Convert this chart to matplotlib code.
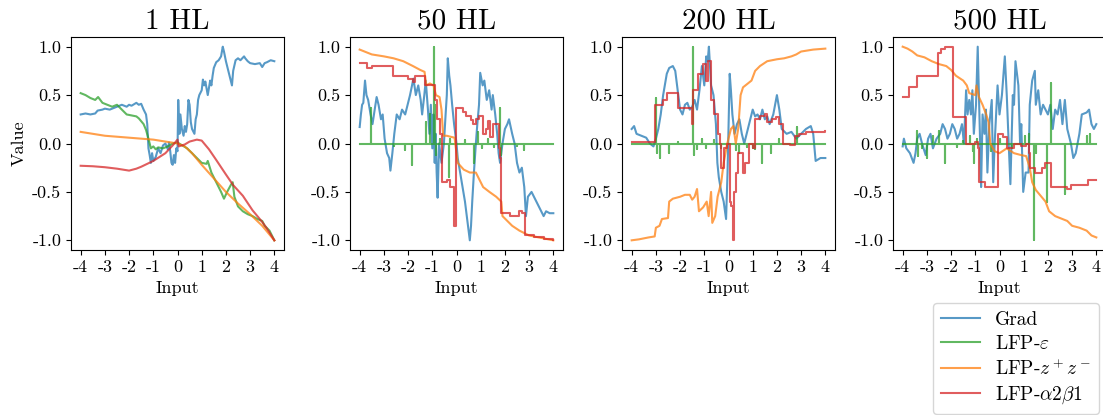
import matplotlib
matplotlib.use("Agg")
import matplotlib.pyplot as plt

plt.rcParams["font.family"] = "serif"
plt.rcParams["font.serif"] = ["cmr10"]
plt.rcParams["mathtext.fontset"] = "cm"
plt.rcParams["axes.unicode_minus"] = False
plt.rcParams["axes.formatter.use_mathtext"] = False

TITLES = ["1 HL", "50 HL", "200 HL", "500 HL"]
LABELS = ["Grad", r"LFP-$\varepsilon$", r"LFP-$z^+z^-$", r"LFP-$\alpha2\beta1$"]
COLORS = ["C0", "C2", "C1", "C3"]
XTICKS = [-4, -3, -2, -1, 0, 1, 2, 3, 4]
YTICKS = [-1.0, -0.5, 0.0, 0.5, 1.0]

# ---- 1 HL ----
grad_1 = [(-4.0, 0.30), (-3.8, 0.31), (-3.6, 0.30), (-3.4, 0.31), (-3.3, 0.34), (-3.1, 0.35),
          (-3.0, 0.36), (-2.8, 0.35), (-2.6, 0.37), (-2.5, 0.38), (-2.3, 0.40), (-2.1, 0.38),
          (-2.0, 0.40), (-1.9, 0.39), (-1.7, 0.42), (-1.6, 0.40), (-1.5, 0.41), (-1.4, 0.35),
          (-1.3, 0.30), (-1.25, 0.20), (-1.2, -0.05), (-1.15, -0.12), (-1.1, -0.20), (-1.05, -0.10),
          (-1.0, -0.18), (-0.9, -0.14), (-0.8, -0.05), (-0.7, -0.10), (-0.6, -0.02), (-0.5, 0.00),
          (-0.4, -0.06), (-0.35, 0.01), (-0.3, -0.08), (-0.25, -0.20), (-0.2, -0.22), (-0.15, -0.12),
          (-0.1, -0.20), (-0.05, -0.05), (0.0, -0.08), (0.03, 0.45), (0.08, 0.10), (0.12, 0.30),
          (0.18, 0.15), (0.25, 0.08), (0.3, 0.18), (0.35, 0.12), (0.4, 0.20), (0.45, 0.45),
          (0.5, 0.40), (0.55, 0.22), (0.6, 0.15), (0.7, 0.10), (0.75, 0.25), (0.8, 0.30),
          (0.85, 0.45), (0.9, 0.50), (1.0, 0.55), (1.05, 0.66), (1.1, 0.60), (1.15, 0.64),
          (1.25, 0.50), (1.35, 0.65), (1.4, 0.60), (1.45, 0.70), (1.5, 0.78), (1.6, 0.84),
          (1.7, 0.86), (1.8, 0.90), (1.87, 1.00), (1.92, 0.95), (2.0, 0.85), (2.1, 0.75),
          (2.15, 0.70), (2.25, 0.60), (2.3, 0.75), (2.4, 0.86), (2.5, 0.88), (2.6, 0.86),
          (2.75, 0.90), (2.8, 0.88), (2.9, 0.85), (3.0, 0.83), (3.2, 0.82), (3.4, 0.83),
          (3.5, 0.79), (3.6, 0.83), (3.7, 0.84), (3.85, 0.86), (4.0, 0.85)]
eps_1 = [(-4.0, 0.52), (-3.8, 0.50), (-3.6, 0.47), (-3.4, 0.45), (-3.28, 0.48), (-3.1, 0.42),
         (-2.9, 0.40), (-2.7, 0.38), (-2.5, 0.40), (-2.3, 0.35), (-2.1, 0.30), (-1.9, 0.29),
         (-1.7, 0.28), (-1.6, 0.26), (-1.4, 0.20), (-1.3, 0.14), (-1.2, 0.05), (-1.1, -0.05),
         (-1.0, -0.03), (-0.9, -0.06), (-0.8, -0.04), (-0.6, -0.05), (-0.4, -0.03), (-0.2, 0.00),
         (0.0, 0.01), (0.2, -0.02), (0.4, -0.05), (0.6, -0.10), (0.8, -0.15), (1.0, -0.20),
         (1.2, -0.21), (1.25, -0.18), (1.4, -0.30), (1.6, -0.40), (1.8, -0.50), (1.92, -0.57),
         (2.05, -0.50), (2.2, -0.43), (2.28, -0.40), (2.35, -0.55), (2.5, -0.65), (2.7, -0.70),
         (2.9, -0.73), (3.1, -0.75), (3.3, -0.78), (3.5, -0.80), (3.6, -0.85), (3.8, -0.90),
         (4.0, -1.00)]
zz_1 = [(-4.0, 0.12), (-3.5, 0.10), (-3.0, 0.08), (-2.5, 0.07), (-2.0, 0.06), (-1.5, 0.05),
        (-1.0, 0.04), (-0.5, 0.02), (0.0, 0.00), (0.3, -0.03), (0.6, -0.10), (1.0, -0.22),
        (1.5, -0.36), (2.0, -0.50), (2.5, -0.62), (3.0, -0.73), (3.5, -0.85), (4.0, -1.00)]
ab_1 = [(-4.0, -0.23), (-3.5, -0.235), (-3.0, -0.245), (-2.5, -0.26), (-2.0, -0.28), (-1.7, -0.26),
        (-1.5, -0.24), (-1.0, -0.18), (-0.5, -0.10), (-0.2, -0.02), (0.0, 0.04), (0.05, -0.03),
        (0.3, -0.01), (0.5, 0.02), (0.8, 0.04), (1.0, 0.03), (1.3, -0.06), (1.6, -0.17),
        (2.0, -0.32), (2.3, -0.43), (2.7, -0.54), (3.1, -0.69), (3.5, -0.81), (3.7, -0.88),
        (4.0, -1.00)]

# ---- 50 HL ----
grad_50 = [(-4.0, 0.17), (-3.95, 0.30), (-3.9, 0.40), (-3.85, 0.42), (-3.78, 0.65), (-3.72, 0.50),
           (-3.65, 0.45), (-3.55, 0.30), (-3.47, 0.20), (-3.38, 0.35), (-3.3, 0.48), (-3.22, 0.40),
           (-3.12, 0.25), (-3.05, 0.30), (-2.97, 0.05), (-2.87, -0.10), (-2.78, -0.15), (-2.73, -0.28),
           (-2.65, -0.10), (-2.57, 0.10), (-2.47, 0.30), (-2.35, 0.25), (-2.25, 0.35), (-2.12, 0.30),
           (-2.02, 0.40), (-1.92, 0.50), (-1.78, 0.67), (-1.68, 0.50), (-1.58, 0.60), (-1.48, 0.45),
           (-1.42, 0.30), (-1.33, 0.50), (-1.27, 0.65), (-1.18, 0.35), (-1.12, 0.10), (-1.06, 0.40),
           (-1.0, -0.05), (-0.95, 0.30), (-0.9, -0.20), (-0.86, 0.10), (-0.82, -0.30), (-0.78, -0.56),
           (-0.72, 0.00), (-0.62, -0.20), (-0.52, 0.00), (-0.45, 0.30), (-0.4, 0.50), (-0.36, 0.88),
           (-0.3, 0.70), (-0.25, 0.60), (-0.18, 0.40), (-0.1, 0.20), (0.0, 0.00), (0.05, -0.15),
           (0.15, -0.30), (0.25, -0.45), (0.35, -0.60), (0.45, -0.80), (0.55, -1.00), (0.6, -0.85),
           (0.65, -0.60), (0.72, -0.30), (0.8, 0.00), (0.86, 0.20), (0.93, 0.40), (0.98, 0.73),
           (1.08, 0.60), (1.15, 0.65), (1.25, 0.45), (1.35, 0.55), (1.45, 0.35), (1.5, 0.50),
           (1.6, 0.30), (1.68, 0.10), (1.74, -0.10), (1.8, -0.20), (1.9, 0.00), (2.0, 0.15),
           (2.1, 0.20), (2.17, 0.25), (2.3, 0.10), (2.4, 0.00), (2.5, -0.20), (2.6, -0.30),
           (2.7, -0.25), (2.8, -0.45), (2.87, -0.75), (2.95, -0.55), (3.1, -0.50), (3.3, -0.60),
           (3.5, -0.70), (3.6, -0.75), (3.7, -0.70), (3.85, -0.72), (4.0, -0.72)]
eps_50 = [(-3.55, 0.37), (-2.58, -0.03), (-2.14, -0.07), (-1.84, -0.22), (-1.25, 0.22),
          (-1.11, 0.30), (-0.95, 1.00), (-0.9, 0.40), (-0.86, -0.12), (-0.7, 0.05), (-0.32, -0.35),
          (-0.25, 0.05), (0.35, 0.04), (0.74, -0.20), (0.88, 0.12), (1.05, -0.05), (1.3, 0.05),
          (1.55, -0.04), (1.8, 0.37), (1.85, -0.12), (2.5, -0.03), (2.8, -0.07)]
zz_50 = [(-4.0, 0.97), (-3.8, 0.95), (-3.5, 0.92), (-3.0, 0.90), (-2.6, 0.88), (-2.2, 0.85),
         (-1.8, 0.80), (-1.5, 0.76), (-1.32, 0.74), (-1.25, 0.60), (-1.1, 0.62), (-0.95, 0.60),
         (-0.85, 0.50), (-0.7, 0.48), (-0.62, 0.35), (-0.55, 0.08), (-0.4, 0.08), (-0.25, 0.07),
         (-0.08, 0.06), (0.05, -0.20), (0.3, -0.27), (0.55, -0.30), (0.8, -0.30), (1.1, -0.45),
         (1.36, -0.50), (1.64, -0.55), (1.85, -0.60), (1.9, -0.75), (2.3, -0.85), (2.6, -0.90),
         (3.0, -0.95), (3.4, -0.97), (3.8, -0.99), (4.0, -1.00)]
ab_50 = [(-4.0, 0.83), (-3.7, 0.78), (-3.5, 0.80), (-2.62, 0.70), (-2.0, 0.67), (-1.8, 0.64),
         (-1.73, 0.70), (-1.3, 0.60), (-0.9, 0.45), (-0.8, 0.25), (-0.7, 0.10), (-0.58, -0.40),
         (-0.4, -0.38), (-0.25, -0.45), (-0.12, -0.85), (-0.03, 0.37), (0.26, 0.33), (0.4, 0.28),
         (0.6, 0.24), (0.67, 0.20), (0.8, 0.25), (0.92, 0.28), (1.09, 0.10), (1.2, 0.15),
         (1.3, 0.23), (1.4, 0.07), (1.5, 0.20), (1.75, -0.05), (1.79, -0.15), (1.82, -0.72),
         (2.2, -0.75), (2.6, -0.70), (2.7, -0.72), (2.82, -0.95), (3.2, -0.97), (3.6, -0.99),
         (4.0, -1.00)]

# ---- 200 HL ----
grad_200 = [(-4.0, 0.15), (-3.9, 0.18), (-3.8, 0.10), (-3.6, 0.08), (-3.4, 0.06), (-3.25, 0.00),
            (-3.1, -0.03), (-3.0, 0.05), (-2.9, 0.15), (-2.8, 0.30), (-2.7, 0.50), (-2.55, 0.72),
            (-2.45, 0.78), (-2.3, 0.80), (-2.2, 0.75), (-2.1, 0.55), (-2.0, 0.35), (-1.9, 0.30),
            (-1.8, 0.40), (-1.7, 0.42), (-1.6, 0.35), (-1.5, 0.38), (-1.4, 0.45), (-1.3, 0.35),
            (-1.2, 0.55), (-1.1, 0.80), (-1.0, 0.60), (-0.92, 0.90), (-0.86, 0.85), (-0.81, 1.00),
            (-0.72, 0.60), (-0.62, 0.50), (-0.52, 0.20), (-0.46, -0.20), (-0.4, -0.35), (-0.3, -0.50),
            (-0.2, -0.60), (-0.1, -0.78), (-0.04, -0.30), (0.05, 0.72), (0.1, 0.55), (0.16, 0.30),
            (0.25, 0.10), (0.35, 0.20), (0.45, 0.25), (0.55, 0.10), (0.65, 0.00), (0.8, 0.15),
            (0.9, 0.25), (1.0, 0.35), (1.1, 0.28), (1.2, 0.30), (1.3, 0.25), (1.4, 0.35),
            (1.5, 0.25), (1.6, 0.28), (1.7, 0.20), (1.85, 0.30), (2.0, 0.50), (2.1, 0.35),
            (2.2, 0.15), (2.4, 0.10), (2.6, 0.12), (2.8, 0.05), (3.0, 0.10), (3.2, 0.15),
            (3.4, 0.18), (3.5, 0.10), (3.6, -0.18), (3.8, -0.15), (4.0, -0.15)]
eps_200 = [(-3.01, 0.47), (-2.97, -0.10), (-2.85, -0.15), (-2.47, -0.10), (-2.1, 0.02),
           (-1.47, 1.00), (-1.43, -0.12), (-1.3, -0.06), (-1.1, 0.05), (-0.95, -0.05), (-0.6, 0.04),
           (-0.3, -0.05), (0.3, -0.07), (0.45, -0.10), (0.75, -0.04), (1.0, -0.05), (1.1, -0.06),
           (1.4, -0.20), (1.75, -0.10), (2.1, 0.05), (2.84, 0.17)]
zz_200 = [(-4.0, -1.00), (-3.7, -0.99), (-3.3, -0.97), (-3.05, -0.96), (-3.0, -0.87), (-2.85, -0.85),
          (-2.75, -0.78), (-2.5, -0.77), (-2.45, -0.60), (-2.3, -0.57), (-2.0, -0.55), (-1.8, -0.53),
          (-1.6, -0.53), (-1.5, -0.58), (-1.4, -0.55), (-1.3, -0.47), (-1.22, -0.70), (-1.05, -0.66),
          (-0.9, -0.60), (-0.82, -0.75), (-0.72, -0.50), (-0.67, -0.82), (-0.55, -0.75), (-0.45, -0.55),
          (-0.3, -0.40), (-0.2, -0.20), (-0.05, 0.00), (0.1, 0.15), (0.2, 0.18), (0.3, 0.00),
          (0.4, 0.15), (0.5, 0.50), (0.6, 0.58), (0.8, 0.62), (0.95, 0.65), (1.1, 0.75),
          (1.3, 0.80), (1.6, 0.85), (2.0, 0.87), (2.3, 0.88), (2.6, 0.90), (2.8, 0.92),
          (3.0, 0.95), (3.5, 0.97), (4.0, 0.98)]
ab_200 = [(-4.0, 0.02), (-3.02, 0.40), (-2.7, 0.45), (-2.55, 0.52), (-2.1, 0.37), (-1.5, 0.20),
          (-1.45, 0.55), (-1.25, 0.72), (-1.05, 0.82), (-0.95, 0.65), (-0.85, 0.85), (-0.72, 0.45),
          (-0.6, 0.30), (-0.45, 0.10), (-0.35, 0.00), (-0.3, -0.25), (-0.2, -0.05), (-0.05, 0.00),
          (0.05, -0.60), (0.12, -0.65), (0.17, -1.00), (0.23, -0.50), (0.3, -0.30), (0.4, -0.10),
          (0.6, -0.30), (0.68, -0.20), (0.85, 0.00), (1.0, -0.05), (1.1, 0.25), (1.3, 0.28),
          (1.5, 0.30), (1.6, 0.22), (1.8, 0.25), (1.95, 0.27), (2.1, 0.20), (2.25, 0.00),
          (2.55, -0.02), (2.75, 0.08), (2.9, 0.10), (3.2, 0.12), (4.0, 0.13)]

# ---- 500 HL ----
grad_500 = [(-4.0, -0.03), (-3.95, 0.05), (-3.85, -0.05), (-3.7, -0.10), (-3.55, -0.20), (-3.47, -0.10),
            (-3.4, 0.05), (-3.3, 0.10), (-3.2, 0.00), (-3.05, -0.12), (-2.95, 0.05), (-2.85, 0.10),
            (-2.75, -0.05), (-2.6, 0.05), (-2.45, 0.10), (-2.35, 0.20), (-2.25, 0.15), (-2.15, 0.05),
            (-2.05, 0.10), (-1.95, 0.20), (-1.85, 0.15), (-1.75, 0.05), (-1.65, 0.10), (-1.55, 0.20),
            (-1.47, 0.00), (-1.38, 0.55), (-1.32, 0.30), (-1.25, 0.45), (-1.18, 0.30), (-1.12, 0.55),
            (-1.06, 0.10), (-0.97, 0.40), (-0.9, 1.00), (-0.85, 0.50), (-0.8, 0.00), (-0.76, -0.45),
            (-0.7, 0.30), (-0.62, 0.10), (-0.56, 0.35), (-0.5, -0.30), (-0.42, 0.20), (-0.32, 0.45),
            (-0.26, -0.40), (-0.2, 0.00), (-0.14, 0.30), (-0.08, 0.60), (0.0, 0.30), (0.1, 0.50),
            (0.22, 0.90), (0.3, 0.50), (0.38, 0.00), (0.45, -0.42), (0.55, 0.50), (0.6, 0.40),
            (0.66, 0.85), (0.78, 0.60), (0.85, 0.00), (0.9, 0.20), (0.98, -0.50), (1.08, -0.30),
            (1.2, -0.30), (1.25, 0.40), (1.35, 0.65), (1.46, 0.75), (1.5, 0.40), (1.6, 0.55),
            (1.7, 0.30), (1.8, 0.40), (1.9, 0.35), (2.0, 0.30), (2.1, 0.40), (2.2, 0.15),
            (2.3, 0.35), (2.4, 0.30), (2.5, 0.45), (2.6, 0.20), (2.7, 0.45), (2.8, 0.15),
            (2.95, 0.00), (3.05, -0.15), (3.15, -0.10), (3.3, 0.10), (3.4, 0.30), (3.6, 0.32),
            (3.7, 0.35), (3.8, 0.20), (3.9, 0.15), (4.0, 0.20)]
eps_500 = [(-3.4, 0.13), (-3.38, -0.13), (-3.2, -0.05), (-3.0, -0.15), (-2.75, 0.08), (-2.5, 0.13),
           (-2.25, -0.20), (-1.75, -0.04), (-1.5, 0.03), (-1.2, 0.08), (-1.08, -0.08), (-1.06, -0.20),
           (-0.95, 0.05), (-0.35, -0.08), (0.0, 0.05), (0.5, -0.05), (1.05, 0.08), (1.22, 0.10),
           (1.42, -1.00), (1.5, -0.10), (1.97, -0.60), (2.14, 0.63), (2.69, -0.52), (3.6, 0.08),
           (3.72, 0.10)]
zz_500 = [(-4.0, 1.00), (-3.8, 0.98), (-3.6, 0.95), (-3.4, 0.91), (-3.1, 0.89), (-2.8, 0.85),
          (-2.5, 0.82), (-2.2, 0.80), (-2.0, 0.76), (-1.8, 0.70), (-1.5, 0.65), (-1.35, 0.60),
          (-1.25, 0.52), (-1.0, 0.50), (-0.95, 0.60), (-0.85, 0.48), (-0.7, 0.40), (-0.55, 0.30),
          (-0.45, 0.22), (-0.38, 0.00), (-0.2, -0.08), (0.0, -0.10), (0.3, -0.05), (0.6, -0.10),
          (0.9, -0.12), (1.1, -0.13), (1.25, -0.25), (1.35, -0.40), (1.5, -0.48), (1.7, -0.54),
          (1.9, -0.60), (2.05, -0.70), (2.3, -0.75), (2.6, -0.78), (2.8, -0.80), (3.0, -0.85),
          (3.3, -0.87), (3.6, -0.90), (3.8, -0.95), (4.0, -0.97)]
ab_500 = [(-4.0, 0.48), (-3.75, 0.58), (-3.4, 0.70), (-2.53, 0.93), (-2.42, 0.98), (-2.25, 1.00),
          (-1.93, 0.27), (-1.39, 0.00), (-1.0, 0.02), (-0.9, -0.05), (-0.86, -0.40), (-0.6, -0.45),
          (-0.05, 0.10), (0.15, 0.07), (0.3, -0.05), (0.6, 0.00), (0.9, -0.03), (1.1, 0.00),
          (1.2, -0.10), (1.28, -0.25), (1.45, -0.30), (1.75, -0.25), (1.9, -0.20), (2.14, -0.45),
          (2.5, -0.45), (2.8, -0.47), (2.95, -0.43), (3.65, -0.38), (4.0, -0.38)]

GRAD = [grad_1, grad_50, grad_200, grad_500]
EPS = [eps_1, eps_50, eps_200, eps_500]
ZZ = [zz_1, zz_50, zz_200, zz_500]
AB = [ab_1, ab_50, ab_200, ab_500]


def xy(points):
    xs, ys = zip(*points)
    return list(xs), list(ys)


def spike_line(spikes):
    """Flat zero line with thin vertical spikes at the given (x, height) spots."""
    xs, ys = [-4.0], [0.0]
    for x, h in sorted(spikes):
        xs += [x, x, x]
        ys += [0.0, h, 0.0]
    xs.append(4.0)
    ys.append(0.0)
    return xs, ys


W, H = 1103, 415
fig = plt.figure(figsize=(W / 100, H / 100), dpi=100)
lefts = [71, 350, 622, 893]
axes = [fig.add_axes([l / W, (H - 250) / H, 213 / W, 213 / H]) for l in lefts]

for i, ax in enumerate(axes):
    kw = dict(lw=1.5, alpha=0.75)
    ax.plot(*xy(GRAD[i]), color=COLORS[0], label=LABELS[0], **kw)
    if i == 0:
        ax.plot(*xy(EPS[i]), color=COLORS[1], label=LABELS[1], **kw)
    else:
        ax.plot(*spike_line(EPS[i]), color=COLORS[1], label=LABELS[1], **kw)
    ax.plot(*xy(ZZ[i]), color=COLORS[2], label=LABELS[2], **kw)
    if i == 0:
        ax.plot(*xy(AB[i]), color=COLORS[3], label=LABELS[3], **kw)
    else:
        ax.plot(*xy(AB[i]), color=COLORS[3], label=LABELS[3], drawstyle="steps-post", **kw)
    ax.set_title(TITLES[i], fontsize=21)
    ax.set_xticks(XTICKS)
    ax.set_xticklabels([str(t) for t in XTICKS])
    ax.set_yticks(YTICKS)
    ax.set_yticklabels([f"{t:.1f}" for t in YTICKS])
    ax.tick_params(labelsize=13)
    ax.set_xlabel("Input", fontsize=13)

axes[0].set_ylabel("Value", fontsize=13)

handles, labels = axes[0].get_legend_handles_labels()
fig.legend(handles, labels, loc="upper left", bbox_to_anchor=(933 / W, 1 - 303 / H),
           borderaxespad=0.0, fontsize=14, handlelength=2.0, labelspacing=0.3, frameon=True)

fig.savefig("out.png", dpi=100)
